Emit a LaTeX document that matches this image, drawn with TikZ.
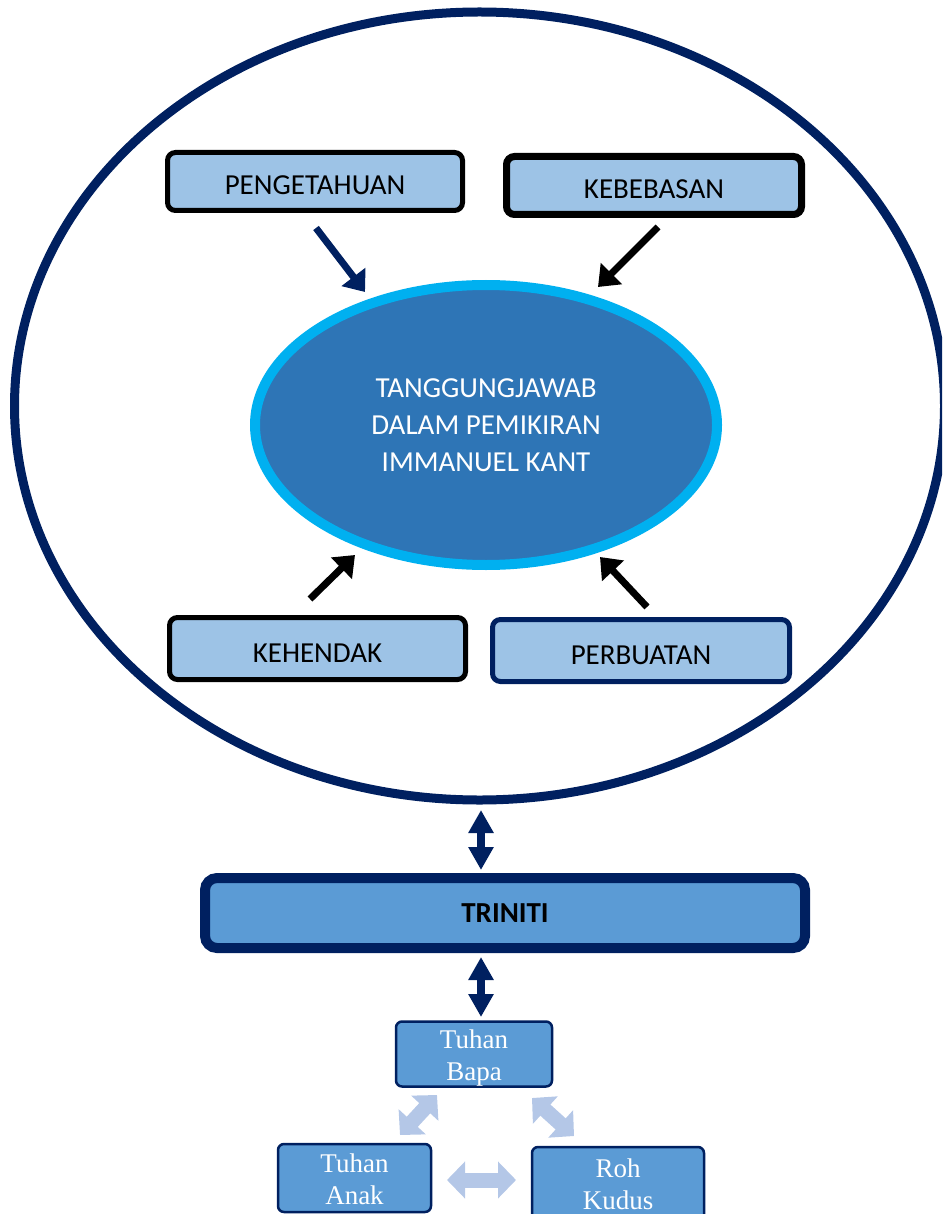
\documentclass[tikz,border=0pt]{standalone}
\usepackage{fontspec}
\setmainfont{Carlito}
\newfontfamily\tnr{Liberation Serif}
\usetikzlibrary{arrows.meta,shapes.geometric}
\definecolor{navy}{HTML}{002060}
\definecolor{boxfill}{HTML}{9DC3E6}
\definecolor{innerfill}{HTML}{2E75B6}
\definecolor{innerrim}{HTML}{00B0F0}
\definecolor{midblue}{HTML}{5B9BD5}
\definecolor{lightarrow}{HTML}{B4C7E7}
\begin{document}
\begin{tikzpicture}[x=1pt,y=-1pt,
  lightbox/.style={draw, rounded corners=8pt, fill=boxfill, minimum width=295pt, minimum height=58pt, inner sep=0pt, font=\fontsize{29}{35}\selectfont, text=black, text height=27pt, text depth=0pt},
  inarrow/.style={line width=7pt, -{Triangle[length=19pt,width=29pt]}},
  darrow/.style={navy, line width=8pt, {Triangle[length=23pt,width=24pt]}-{Triangle[length=23pt,width=24pt]}},
  blockarrow/.style={lightarrow, line width=15pt, {Triangle[length=18pt,width=36pt]}-{Triangle[length=18pt,width=36pt]}},
  tbox/.style={draw=navy, line width=2.5pt, fill=midblue, rounded corners=6pt, inner sep=0pt},
  ttext/.style={text=white, font=\tnr\fontsize{27}{32}\selectfont, align=center, inner sep=0pt}
]
\useasboundingbox (0,0) rectangle (942,1214);
\clip (0,0) rectangle (942,1214);

% outer ellipse
\node[draw=navy, line width=9pt, ellipse, minimum width=930pt, minimum height=788pt, inner sep=0pt] (outer) at (479.5,406) {};
% inner ellipse
\node[draw=innerrim, fill=innerfill, line width=10pt, ellipse, minimum width=462pt, minimum height=280pt, inner sep=0pt] (core) at (486,425) {};
\node[text=white, align=center, font=\fontsize{29}{37}\selectfont] (coretext) at (486,425) {TANGGUNGJAWAB\\DALAM PEMIKIRAN\\IMMANUEL KANT};

% four boxes
\node[lightbox, line width=5pt] (peng) at (315,181.5) {PENGETAHUAN};
\node[lightbox, line width=7pt] (kebe) at (654,185.5) {KEBEBASAN};
\node[lightbox, line width=5pt, minimum width=296pt, minimum height=62pt] (kehe) at (317.5,648.5) {KEHENDAK};
\node[lightbox, draw=navy, line width=5pt, minimum width=297pt, minimum height=62pt] (perb) at (641,650.5) {PERBUATAN};

% arrow ends
\coordinate (pengS) at (316,228);
\coordinate (pengE) at (365,292);
\coordinate (kebeS) at (658,227);
\coordinate (kebeE) at (598,287);
\coordinate (keheS) at (310,599);
\coordinate (keheE) at (355,555);
\coordinate (perbS) at (647,607);
\coordinate (perbE) at (600,557);
\draw[inarrow, draw=navy, fill=navy] (pengS) -- (pengE);
\draw[inarrow] (kebeS) -- (kebeE);
\draw[inarrow] (keheS) -- (keheE);
\draw[inarrow] (perbS) -- (perbE);

% TRINITI
\node[draw=navy, line width=10pt, fill=midblue, rounded corners=12pt, minimum width=600pt, minimum height=70pt, inner sep=0pt, font=\bfseries\fontsize{29}{35}\selectfont] (trin) at (505,913) {TRINITI};

\coordinate (d1a) at (481,810);
\coordinate (d1b) at (481,870);
\coordinate (d2a) at (481,957);
\coordinate (d2b) at (481,1017);
\draw[darrow] (d1a) -- (d1b);
\draw[darrow] (d2a) -- (d2b);

% Trinity boxes
\node[tbox, minimum width=156pt, minimum height=65pt] (bapa) at (474,1054) {};
\node[ttext] (bapaT) at ([yshift=-4pt]bapa.center) {Tuhan\\Bapa};
\node[tbox, minimum width=153pt, minimum height=68pt] (anak) at (354.5,1178) {};
\node[ttext] (anakT) at ([yshift=-1pt]anak.center) {Tuhan\\Anak};
\node[tbox, minimum width=172pt, minimum height=78pt] (roh) at (618,1186) {};
\node[ttext] (rohT) at ([yshift=2pt]roh.center) {Roh\\Kudus};

\coordinate (ba1) at (400,1135);
\coordinate (ba2) at (437,1095);
\coordinate (br1) at (532,1098);
\coordinate (br2) at (574,1136);
\coordinate (ar1) at (447,1180);
\coordinate (ar2) at (516,1180);
\draw[blockarrow] (ba1) -- (ba2);
\draw[blockarrow] (br1) -- (br2);
\draw[blockarrow] (ar1) -- (ar2);
\end{tikzpicture}
\end{document}
